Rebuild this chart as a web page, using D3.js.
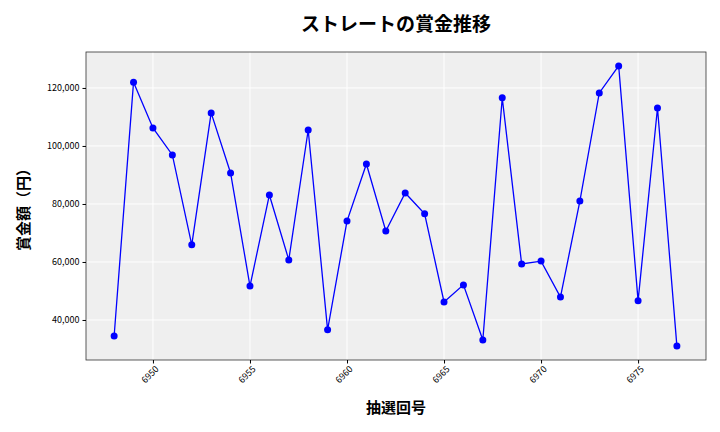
<!DOCTYPE html>
<html><head><meta charset="utf-8">
<script src="https://cdn.jsdelivr.net/npm/d3@7"></script>
<style>body{margin:0;background:#fff}text{font-family:"Noto Sans CJK JP","Noto Sans",sans-serif}</style>
</head><body><svg width="720" height="432"></svg>
<script>
const draws = d3.range(6948, 6978);
const prizes = [34500,122000,106200,96900,65900,111400,90700,51700,83100,60700,
  105500,36600,74100,93800,70700,83800,76600,46200,52100,33100,
  116600,59300,60300,47900,81000,118300,127600,46600,113100,31000];
const xTicks = [6950,6955,6960,6965,6970,6975];
const yTicks = [40000,60000,80000,100000,120000];

const m = {left: 86, right: 706, top: 52, bottom: 360};
const svg = d3.select("svg");
const x = d3.scaleLinear().domain([6946.55, 6978.5]).range([m.left, m.right]);
const y = d3.scaleLinear().domain([26200, 132400]).range([m.bottom, m.top]);

svg.append("rect").attr("x", m.left).attr("y", m.top)
  .attr("width", m.right - m.left).attr("height", m.bottom - m.top).attr("fill", "#efefef");

svg.append("g").selectAll("line").data(xTicks).join("line")
  .attr("x1", d => x(d)).attr("x2", d => x(d)).attr("y1", m.top).attr("y2", m.bottom)
  .attr("stroke", "#fff").attr("stroke-width", 1);
svg.append("g").selectAll("line").data(yTicks).join("line")
  .attr("y1", d => y(d)).attr("y2", d => y(d)).attr("x1", m.left).attr("x2", m.right)
  .attr("stroke", "#fff").attr("stroke-width", 1);

svg.append("rect").attr("x", m.left).attr("y", m.top)
  .attr("width", m.right - m.left).attr("height", m.bottom - m.top)
  .attr("fill", "none").attr("stroke", "#333").attr("stroke-width", 0.8);

const xa = svg.append("g").attr("transform", `translate(0,${m.bottom})`)
  .call(d3.axisBottom(x).tickValues(xTicks).tickFormat(d3.format("d")).tickSize(3.5));
xa.select(".domain").remove();
xa.selectAll("text").attr("font-size", 9).attr("text-anchor", "end")
  .attr("transform", "rotate(-45)").attr("dx", "-0.3em").attr("dy", "0.5em");

const ya = svg.append("g").attr("transform", `translate(${m.left},0)`)
  .call(d3.axisLeft(y).tickValues(yTicks).tickFormat(d3.format(",")).tickSize(3.5));
ya.select(".domain").remove();
ya.selectAll("text").attr("font-size", 9);

const line = d3.line().x((d, i) => x(draws[i])).y(d => y(d));
svg.append("path").datum(prizes).attr("d", line)
  .attr("fill", "none").attr("stroke", "#0000ff").attr("stroke-width", 1.3);
svg.append("g").selectAll("circle").data(prizes).join("circle")
  .attr("cx", (d, i) => x(draws[i])).attr("cy", d => y(d)).attr("r", 3.5).attr("fill", "#0000ff");

svg.append("text").attr("x", 396).attr("y", 31).attr("text-anchor", "middle")
  .attr("font-size", 19).attr("font-weight", "bold").text("ストレートの賞金推移");
svg.append("text").attr("x", 396).attr("y", 413).attr("text-anchor", "middle")
  .attr("font-size", 15).attr("font-weight", "bold").text("抽選回号");
svg.append("text").attr("transform", "translate(29,206) rotate(-90)").attr("text-anchor", "middle")
  .attr("font-size", 15).attr("font-weight", "bold").text("賞金額（円）");
</script></body></html>
